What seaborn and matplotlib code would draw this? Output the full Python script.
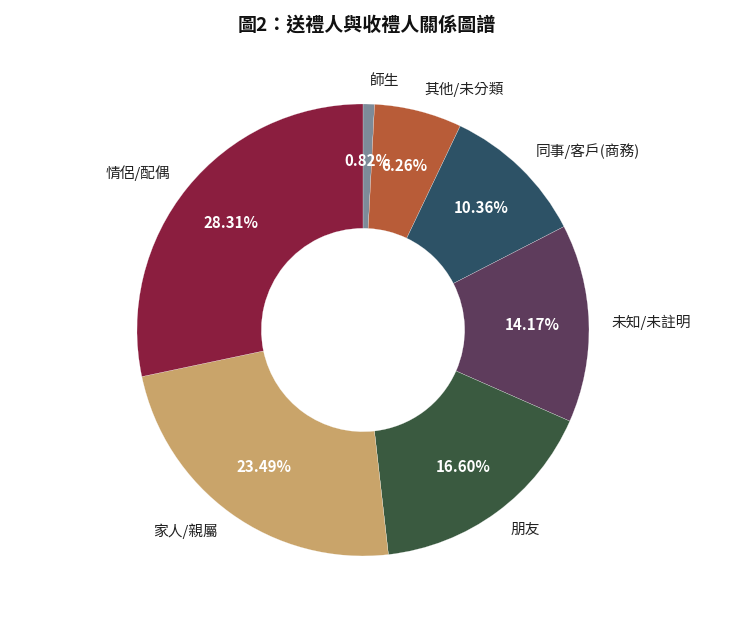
import matplotlib
matplotlib.use("Agg")
import matplotlib.pyplot as plt
import seaborn as sns

categories = ["師生", "其他/未分類", "同事/客戶(商務)", "未知/未註明", "朋友", "家人/親屬", "情侶/配偶"]
shares = [0.82, 6.26, 10.36, 14.17, 16.60, 23.49, 28.31]
colors = ["#7D8B99", "#B85C38", "#2D5266", "#5E3C5C", "#3A5A40", "#C9A46A", "#8B1E3F"]

sns.set_theme(style="white")
plt.rcParams["font.family"] = ["Noto Sans CJK TC", "DejaVu Sans"]

fig = plt.figure(figsize=(7.33, 6.28), dpi=100)
ax = fig.add_axes([0.0944, 0.0067, 0.8016, 0.9357])

wedges, texts, autotexts = ax.pie(
    shares, labels=categories, colors=colors, startangle=90, counterclock=False,
    autopct="%.2f%%", pctdistance=0.75, labeldistance=1.1,
    wedgeprops=dict(width=0.55, edgecolor="white", linewidth=0.15),
    textprops=dict(fontsize=10.6, color="#222222"),
)
for t in autotexts:
    t.set_color("white")
    t.set_fontweight("bold")
    t.set_fontsize(10.8)

ax.set_xlim(-1.3, 1.3)
ax.set_ylim(-1.3, 1.3)
ax.set_aspect("equal")
ax.axis("off")

fig.suptitle("圖2：送禮人與收禮人關係圖譜", y=0.976, fontsize=13.7, fontweight="bold", color="#111111")

fig.savefig("out.png", dpi=100, facecolor="white")
